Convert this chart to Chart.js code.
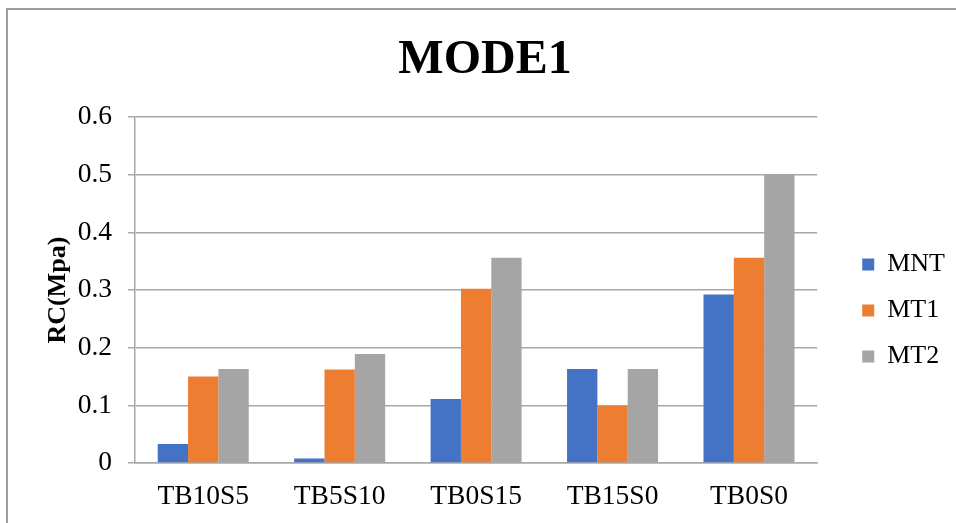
<!DOCTYPE html>
<html>
<head>
<meta charset="utf-8">
<script src="https://cdn.jsdelivr.net/npm/chart.js@4/dist/chart.umd.min.js"></script>
<style>
  html, body { margin: 0; padding: 0; background: #fff; }
  #wrap { position: relative; width: 956px; height: 523px; overflow: hidden; }
  #frame { position: absolute; left: 6px; top: 8px; width: 1000px; height: 600px;
           border-left: 2px solid #9c9c9c; border-top: 2px solid #9c9c9c; }
  canvas { position: absolute; left: 0; top: 0; }
</style>
</head>
<body>
<div id="wrap">
  <div id="frame"></div>
  <canvas id="chart" width="956" height="523"></canvas>
</div>
<script>
// Categories and series values (RC in MPa)
const categories = ['TB10S5', 'TB5S10', 'TB0S15', 'TB15S0', 'TB0S0'];
const mntValues = [0.033, 0.008, 0.111, 0.163, 0.292];
const mt1Values = [0.150, 0.162, 0.302, 0.099, 0.356];
const mt2Values = [0.163, 0.189, 0.356, 0.163, 0.500];
const seriesNames = ['MNT', 'MT1', 'MT2'];
const seriesColors = ['#4472C4', '#ED7D31', '#A5A5A5'];

const SERIF = '"Liberation Serif", "Times New Roman", serif';
const GRID = '#a8a8a8';

const datasets = [mntValues, mt1Values, mt2Values].map((vals, i) => ({
  label: seriesNames[i],
  data: vals,
  backgroundColor: seriesColors[i],
  borderWidth: 0,
  categoryPercentage: 0.667,
  barPercentage: 1.0,
  yAxisID: 'y'
}));

// Move the legend block down so its entries sit beside the middle of the plot
const legendOffset = {
  id: 'legendOffset',
  afterLayout(chart) {
    const lg = chart.legend;
    if (!lg) return;
    lg.top += 49;
    lg.bottom += 49;
  }
};

new Chart(document.getElementById('chart'), {
  type: 'bar',
  data: { labels: categories, datasets },
  plugins: [legendOffset],
  options: {
    responsive: false,
    animation: false,
    devicePixelRatio: 1,
    layout: { padding: { left: 15, right: 1, top: 0, bottom: 0 } },
    plugins: {
      title: {
        display: true,
        text: 'MODE1',
        color: '#000',
        font: { family: SERIF, size: 48, weight: 'bold', lineHeight: 1.2 },
        padding: { top: 31.5, bottom: 27.9 }
      },
      legend: {
        display: true,
        position: 'right',
        labels: {
          color: '#000',
          font: { family: SERIF, size: 26 },
          boxWidth: 12,
          boxHeight: 12,
          padding: 20
        }
      },
      tooltip: { enabled: false }
    },
    scales: {
      x: {
        grid: { display: false, drawTicks: false },
        border: { display: true, color: GRID, width: 1.5 },
        ticks: { color: '#000', font: { family: SERIF, size: 27.5 }, padding: 17, maxRotation: 0 },
        afterFit: s => { s.height = 60; }
      },
      y: {
        min: 0,
        max: 0.6,
        ticks: { stepSize: 0.1, color: '#000', font: { family: SERIF, size: 27.5 }, padding: 16 },
        grid: { color: GRID, lineWidth: 1.5, drawTicks: true, tickLength: 7 },
        border: { display: true, color: GRID, width: 1.5 },
        title: {
          display: true,
          text: 'RC(Mpa)',
          color: '#000',
          font: { family: SERIF, size: 26, weight: 'bold', lineHeight: 1.2 },
          padding: { top: 27.4, bottom: 0 }
        },
        afterFit: s => { s.width = 120; }
      },
      // empty strip keeping the legend clear of the plot
      gap: {
        type: 'linear',
        position: 'right',
        display: true,
        grid: { display: false, drawTicks: false },
        border: { display: false },
        ticks: { display: false },
        afterFit: s => { s.width = 25; }
      }
    }
  }
});
</script>
</body>
</html>
